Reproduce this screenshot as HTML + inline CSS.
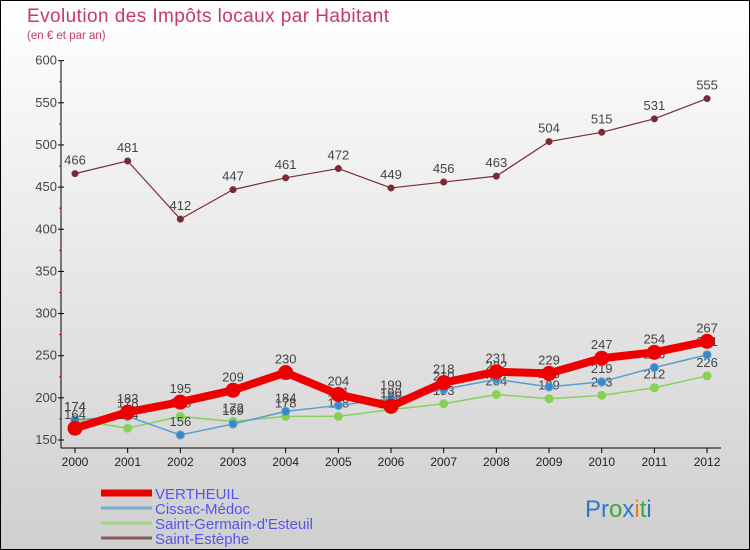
<!DOCTYPE html>
<html><head><meta charset="utf-8"><style>
body{margin:0}
#c{width:750px;height:550px;position:relative;box-sizing:border-box;border:1px solid #000;background:linear-gradient(#ffffff,#cfcfcf);font-family:"Liberation Sans",sans-serif;overflow:hidden}
svg text{font-family:"Liberation Sans",sans-serif}
</style></head><body>
<div id="c">
<svg id="s" width="748" height="548">
<text x="26" y="21" font-size="19" fill="#c8386a" textLength="362">Evolution des Impôts locaux par Habitant</text>
<text x="26" y="38" font-size="11.5" fill="#c8386a">(en € et par an)</text>
</svg>
</div>
<script>
const years=[2000,2001,2002,2003,2004,2005,2006,2007,2008,2009,2010,2011,2012];
const yTicks=[150,200,250,300,350,400,450,500,550,600];
const vertheuil=[164,183,195,209,230,204,190,218,231,229,247,254,267];
const cissac=[174,178,156,169,184,191,199,210,222,213,219,236,251];
const germain=[174,164,178,172,178,178,186,193,204,199,203,212,226];
const estephe=[466,481,412,447,461,472,449,456,463,504,515,531,555];
const NS='http://www.w3.org/2000/svg';
const s=document.getElementById('s');
const X=i=>74+i*52.67;
const Y=v=>439-(v-150)*42.15/50;
function el(t,a,p){const e=document.createElementNS(NS,t);for(const k in a)e.setAttribute(k,a[k]);(p||s).appendChild(e);return e;}
const ax=el('line',{x1:60,y1:Y(600),x2:60,y2:Y(150)+8,stroke:'#000','stroke-width':1});


const bx=el('line',{x1:60,y1:Y(150)+8,x2:720,y2:Y(150)+8,stroke:'#000','stroke-width':1});


yTicks.forEach((v,i)=>{
  el('line',{x1:57,y1:Y(v),x2:63,y2:Y(v),stroke:'#000'});
  const t=el('text',{x:56,y:Y(v)+4,'font-size':13,fill:'#444','text-anchor':'end'});
  t.textContent=v;
  
  
  if(i<yTicks.length-1)el('line',{x1:58,y1:Y(v+25),x2:60,y2:Y(v+25),stroke:'#e00'});
});
years.forEach((y,i)=>{
  el('line',{x1:X(i),y1:Y(150)+8,x2:X(i),y2:Y(150)+13,stroke:'#000'});
  const t=el('text',{x:X(i),y:Y(150)+26,'font-size':12,fill:'#222','text-anchor':'middle'});
  t.textContent=y;
  
  
});
function series(d,color,w,r,name,fill){
  const g=el('g',{});
  
  
  el('polyline',{points:d.map((v,i)=>X(i)+','+Y(v)).join(' '),fill:'none',stroke:color,'stroke-width':w,'stroke-linejoin':'round'},g);
  d.forEach((v,i)=>{
    const c=el('circle',{cx:X(i),cy:Y(v),r:r,fill:fill,stroke:color,'stroke-width':1},g);
    
    
    const t=el('text',{x:X(i),y:Y(v)-9,'font-size':13,fill:'#444','text-anchor':'middle'},g);
    t.textContent=v;
    
    
  });
}
series(estephe,'#7a2a35',1.2,3,'saint-estephe','#7a2a35');
series(germain,'#88d060',1.5,4,'saint-germain','#88d050');
series(cissac,'#5a9ed0',1.5,4,'cissac','#3a88c8');
series(vertheuil,'#ee0000',8,7,'vertheuil','#ee0000');
const leg=[['VERTHEUIL','#ee0000',7],['Cissac-Médoc','#7aaad0',3],['Saint-Germain-d\'Esteuil','#a0d880',3],['Saint-Estèphe','#8a5a5a',3]];
leg.forEach((l,i)=>{
  const y=492+i*15;
  const g=el('g',{});
  
  
  el('line',{x1:100,y1:y,x2:151,y2:y,stroke:l[1],'stroke-width':l[2]},g);
  const t=el('text',{x:154,y:y+6,'font-size':15,fill:'#5555ee'},g);
  t.textContent=l[0];
});
const lg=el('text',{x:584,y:516,'font-size':24});


[['P','#2a7ad0'],['r','#2a7ad0'],['o','#3aa83a'],['x','#2a7ad0'],['i','#f07a10'],['t','#3aa83a'],['i','#2a7ad0']].forEach(p=>{const ts=el('tspan',{fill:p[1]},lg);ts.textContent=p[0];});
</script>
</body></html>
